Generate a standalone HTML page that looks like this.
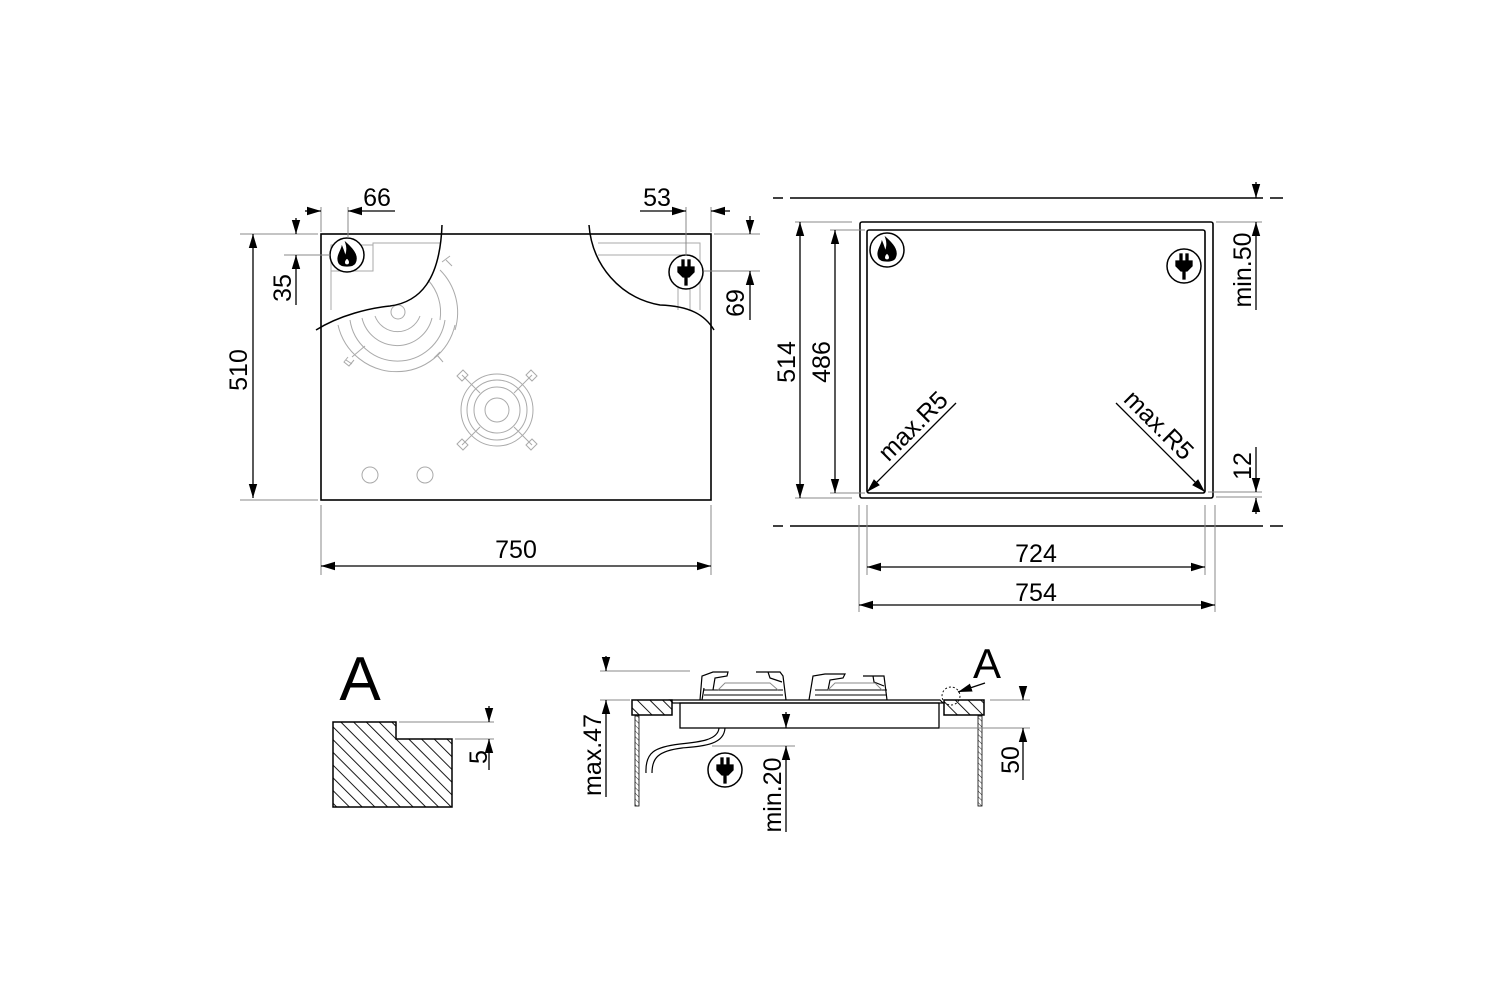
<!DOCTYPE html>
<html><head><meta charset="utf-8"><style>html,body{margin:0;padding:0;background:#fff}svg{display:block}</style></head>
<body>
<svg width="1500" height="1000" viewBox="0 0 1500 1000" xmlns="http://www.w3.org/2000/svg" font-family="Liberation Sans, sans-serif">
<defs>
<marker id="a" viewBox="0 0 10 10" refX="10" refY="5" markerWidth="14" markerHeight="14" markerUnits="userSpaceOnUse" orient="auto-start-reverse"><path d="M0,2 L10,5 L0,8 z" fill="#000"/></marker>
<pattern id="h" width="9" height="9" patternUnits="userSpaceOnUse" patternTransform="rotate(-45)"><line x1="0" y1="0" x2="0" y2="9" stroke="#000" stroke-width="1.8"/></pattern>
<pattern id="h2" width="4" height="4" patternUnits="userSpaceOnUse" patternTransform="rotate(-45)"><line x1="0" y1="0" x2="0" y2="4" stroke="#000" stroke-width="0.8"/></pattern>
<g id="flame"><circle r="17" fill="#fff" stroke="#000" stroke-width="1.5"/><path d="M-1,-12 C8,-4 11,2 8,8 C6,12 -6,12 -8,8 C-11,2 -6,-4 -5,-8 C-3,-3 -2,0 -2,2 C0,-2 1,-6 -1,-12 Z M0,3 C-4,6 -3,10 0,10 C3,10 4,6 0,3 Z" fill="#000" fill-rule="evenodd"/></g>
<g id="plug"><circle r="17" fill="#fff" stroke="#000" stroke-width="1.5"/><rect x="-4" y="-12" width="2" height="7" fill="#000"/><rect x="2" y="-12" width="2" height="7" fill="#000"/><path d="M-8,-5 H8 V0 L3,5 H1 V13 H-1 V5 H-3 L-8,0 Z" fill="#000"/></g>
</defs>
<g fill="none" stroke="#000" stroke-width="1.3">
<!-- LEFT VIEW -->
<rect x="321" y="234" width="390" height="266" stroke-width="1.6"/>
<g stroke="#aaa" stroke-width="1">
<path d="M331,310 V245 H373 V271 H331"/><path d="M373,245 V243 H441"/>
<path d="M598,243 H700 V310"/><path d="M598,255 H690 V310"/><path d="M678,270 V310"/>
<circle cx="398" cy="312" r="7"/>
<path d="M338,325 A60,60 0 0 0 455,325"/><path d="M350,320 A48,48 0 0 0 445,320"/><path d="M362,318 A36,36 0 0 0 432,318"/><path d="M375,316 A24,24 0 0 0 420,316"/>
<path d="M440,270 A60,60 0 0 1 455,330"/><path d="M428,280 A48,48 0 0 1 440,320"/>
<path d="M346,360 L352,364 M348,357 L344,362 L349,366 L354,360 M437,355 L443,362 M434,358 L440,352"/>
<path d="M442,262 L450,256 M446,260 L452,266 M365,346 L352,357"/>
<circle cx="497" cy="410" r="36"/><circle cx="497" cy="410" r="30"/><circle cx="497" cy="410" r="23"/><circle cx="497" cy="410" r="12"/>
<path d="M462,375 L480,393 M532,375 L514,393 M462,445 L480,427 M532,445 L514,427"/>
<path d="M457,376 L463,370 L468,375 L462,381 Z M531,370 L537,376 L532,381 L526,375 Z M457,444 L463,450 L468,445 L462,439 Z M531,450 L537,444 L532,439 L526,445 Z"/>
<circle cx="370" cy="475" r="8"/><circle cx="425" cy="475" r="8"/>
</g>
<path d="M316,330 C340,315 370,308 390,306 C420,302 440,280 442,225" stroke-width="1.5"/>
<path d="M589,225 C592,265 620,298 660,305 C690,306 705,315 714,330" stroke-width="1.5"/>
<use href="#flame" x="347" y="255"/>
<use href="#plug" x="686" y="272"/>
<g stroke-width="1" stroke="#888"><path d="M321,207 V232 M348,207 V238 M686,207 V256 M711,207 V232 M290,234 H318 M284,255 H330 M240,234 H318 M240,500 H318 M714,234 H760 M704,271 H760 M321,505 V575 M711,505 V575"/></g>
<path d="M253,234 V498" marker-start="url(#a)" marker-end="url(#a)"/>
<path d="M321,566 H711" marker-start="url(#a)" marker-end="url(#a)"/>
<path d="M305,211 H321" marker-end="url(#a)"/><path d="M395,211 H348" marker-end="url(#a)"/>
<path d="M640,211 H686" marker-end="url(#a)"/><path d="M730,211 H711" marker-end="url(#a)"/>
<path d="M296,218 V234" marker-end="url(#a)"/><path d="M296,305 V255" marker-end="url(#a)"/>
<path d="M750,216 V234" marker-end="url(#a)"/><path d="M750,320 V271" marker-end="url(#a)"/>
<!-- RIGHT VIEW -->
<rect x="860" y="222" width="353" height="276" rx="2" stroke-width="1.6"/>
<rect x="867" y="230" width="338" height="263" rx="2" stroke-width="1.6"/>
<path d="M773,198 H783 M790,198 H1263 M1270,198 H1283 M773,526 H783 M790,526 H1263 M1270,526 H1283" stroke-width="1.5"/>
<g stroke-width="1" stroke="#888"><path d="M795,222 H852 M830,230 H865 M795,498 H852 M830,493 H865 M1216,222 H1262 M1216,497 H1262 M1208,492 H1262 M859,505 V612 M867,505 V575 M1205,505 V575 M1215,505 V612"/></g>
<path d="M800,222 V498" marker-start="url(#a)" marker-end="url(#a)"/>
<path d="M835,230 V493" marker-start="url(#a)" marker-end="url(#a)"/>
<path d="M867,567 H1205" marker-start="url(#a)" marker-end="url(#a)"/>
<path d="M859,605 H1215" marker-start="url(#a)" marker-end="url(#a)"/>
<path d="M1256,182 V198" marker-end="url(#a)"/><path d="M1256,310 V222" marker-end="url(#a)"/>
<path d="M1256,447 V492" marker-end="url(#a)"/><path d="M1256,514 V498" marker-end="url(#a)"/>
<path d="M956,403 L867,492" marker-end="url(#a)"/>
<path d="M1116,403 L1205,492" marker-end="url(#a)"/>
<use href="#flame" x="887" y="250"/>
<use href="#plug" x="1184" y="266"/>
<!-- DETAIL A -->
<path d="M333,722 H396 V739 H452 V807 H333 Z" fill="url(#h)" stroke-width="1.5"/>
<g stroke-width="1" stroke="#888"><path d="M399,722 H494 M455,739 H494"/></g>
<path d="M489,706 V722" marker-end="url(#a)"/><path d="M489,770 V739" marker-end="url(#a)"/>
<!-- SIDE VIEW -->
<rect x="632" y="700" width="40" height="15" fill="url(#h)" stroke-width="1.5"/>
<rect x="944" y="700" width="40" height="15" fill="url(#h)" stroke-width="1.5"/>
<rect x="635" y="716" width="4" height="90" fill="url(#h2)" stroke-width="0.8"/>
<rect x="978" y="716" width="4" height="90" fill="url(#h2)" stroke-width="0.8"/>
<path d="M670,700 H940 L943,703 H673 Z" stroke-width="1.2"/>
<rect x="680" y="703" width="259" height="25" stroke-width="1.3"/>
<path d="M700,700 L702,676 L713,672 L728,672 L727,676 L715,678 L713,690 M756,672 L780,672 L783,676 L786,700 M768,672 L770,678 L782,682 M702,700 L704,688 M809,700 L813,676 L825,674 L845,674 L843,678 L830,680 L828,690 M863,676 L884,676 L887,700 M873,676 L874,682 L884,686" stroke-width="1.2"/>
<path d="M704,690 H783 M704,695 H783 M815,690 H887 M815,695 H887" stroke-width="1"/>
<path d="M718,690 L725,683 H770 L778,690 M828,690 L835,683 H875 L882,690" stroke="#888" stroke-width="0.9"/>
<path d="M719,728 C718,740 700,742 680,744 C655,747 645,752 646,773" stroke-width="1.2"/>
<path d="M725,728 C724,745 703,746 682,748 C658,751 652,758 652,773" stroke-width="1.2"/>
<circle cx="951" cy="696" r="9" stroke-dasharray="2,2" stroke-width="0.9"/>
<path d="M985,683 L958,692" marker-end="url(#a)"/>
<g stroke-width="1" stroke="#888"><path d="M600,671 H690 M600,700 H630 M712,746 H795 M990,700 H1030 M940,728 H1030"/></g>
<path d="M606,656 V671" marker-end="url(#a)"/><path d="M606,797 V700" marker-end="url(#a)"/>
<path d="M786,712 V728" marker-end="url(#a)"/><path d="M786,832 V746" marker-end="url(#a)"/>
<path d="M1023,686 V700" marker-end="url(#a)"/><path d="M1023,780 V728" marker-end="url(#a)"/>
<use href="#plug" x="725" y="770"/>
</g>
<g font-size="25" fill="#000">
<text x="377" y="206" text-anchor="middle">66</text>
<text x="657" y="206" text-anchor="middle">53</text>
<text x="291" y="288" text-anchor="middle" transform="rotate(-90 291 288)">35</text>
<text x="744" y="303" text-anchor="middle" transform="rotate(-90 744 303)">69</text>
<text x="247" y="370" text-anchor="middle" transform="rotate(-90 247 370)">510</text>
<text x="516" y="558" text-anchor="middle">750</text>
<text x="795" y="362" text-anchor="middle" transform="rotate(-90 795 362)">514</text>
<text x="830" y="362" text-anchor="middle" transform="rotate(-90 830 362)">486</text>
<text x="1036" y="562" text-anchor="middle">724</text>
<text x="1036" y="601" text-anchor="middle">754</text>
<text x="1251" y="270" text-anchor="middle" transform="rotate(-90 1251 270)">min.50</text>
<text x="1251" y="466" text-anchor="middle" transform="rotate(-90 1251 466)">12</text>
<text x="919" y="432" text-anchor="middle" transform="rotate(-45 919 432)">max.R5</text>
<text x="1153" y="431" text-anchor="middle" transform="rotate(45 1153 431)">max.R5</text>
<text x="487" y="757" text-anchor="middle" transform="rotate(-90 487 757)">5</text>
<text x="601" y="755" text-anchor="middle" transform="rotate(-90 601 755)">max.47</text>
<text x="781" y="795" text-anchor="middle" transform="rotate(-90 781 795)">min.20</text>
<text x="1019" y="760" text-anchor="middle" transform="rotate(-90 1019 760)">50</text>
<text x="360" y="700" text-anchor="middle" font-size="62">A</text>
<text x="987" y="678" text-anchor="middle" font-size="42">A</text>
</g>
</svg>
</body></html>
